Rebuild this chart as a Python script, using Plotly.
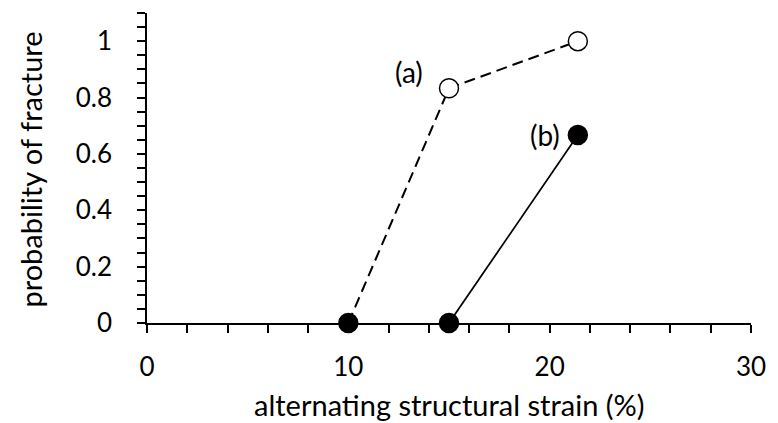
import plotly.graph_objects as go

# Data
strain_a = [10, 15, 21.4]
prob_a = [0, 0.833, 1.0]
fill_a = ["black", "white", "white"]
strain_b = [15, 21.4]
prob_b = [0, 0.667]
labels = ["(a)", "(b)"]
label_x = [13.0, 19.75]
label_y = [0.89, 0.667]

FONT = "Lato"
fig = go.Figure()
fig.add_trace(go.Scatter(
    x=strain_b, y=prob_b, mode="lines+markers",
    line=dict(color="black", width=1.75),
    marker=dict(size=19, color="black", line=dict(color="black", width=1.5)),
    showlegend=False, cliponaxis=False))
fig.add_trace(go.Scatter(
    x=strain_a, y=prob_a, mode="lines+markers",
    line=dict(color="black", width=2, dash="11px,6px"),
    marker=dict(size=19, color=fill_a, line=dict(color="black", width=1.5)),
    showlegend=False, cliponaxis=False))

for t, xx, yy in zip(labels, label_x, label_y):
    fig.add_annotation(x=xx, y=yy, text=t, showarrow=False,
                       xanchor="center", yanchor="middle",
                       font=dict(family=FONT, size=28, color="black"))

fig.add_annotation(xref="paper", yref="paper", x=-(147 - 28) / 612, y=(323 - 170) / 310,
                   xanchor="center", yanchor="middle",
                   text="probability of fracture", textangle=-90, showarrow=False,
                   font=dict(family=FONT, size=29, color="black"))
fig.add_annotation(xref="paper", yref="paper", x=(453 - 147) / 612, y=-(404 - 323) / 310,
                   xanchor="center", yanchor="middle",
                   text="alternating structural strain (%)", showarrow=False,
                   font=dict(family=FONT, size=29, color="black"))

fig.update_layout(
    width=778, height=423,
    margin=dict(l=147, r=19, t=13, b=100),
    paper_bgcolor="white", plot_bgcolor="white",
    font=dict(family=FONT, size=26, color="black"),
    xaxis=dict(range=[0, 30], tickvals=[0, 10, 20, 30], showgrid=False, zeroline=False,
               showline=True, linecolor="black", linewidth=1.5,
               ticks="outside", ticklen=8, tickwidth=1.5, tickcolor="black",
               minor=dict(dtick=2, ticks="outside", ticklen=8, tickwidth=1.5, tickcolor="black"),
               ticklabelstandoff=12),
    yaxis=dict(range=[0, 1.1], tickvals=[0, 0.2, 0.4, 0.6, 0.8, 1],
               ticktext=["0", "0.2", "0.4", "0.6", "0.8", "1"],
               showgrid=False, zeroline=False,
               showline=True, linecolor="black", linewidth=1.5,
               ticks="outside", ticklen=8, tickwidth=1.5, tickcolor="black",
               minor=dict(dtick=0.05, tick0=0, ticks="outside", ticklen=8, tickwidth=1.5, tickcolor="black"),
               ticklabelstandoff=20),
)
fig.write_html("out.html")
